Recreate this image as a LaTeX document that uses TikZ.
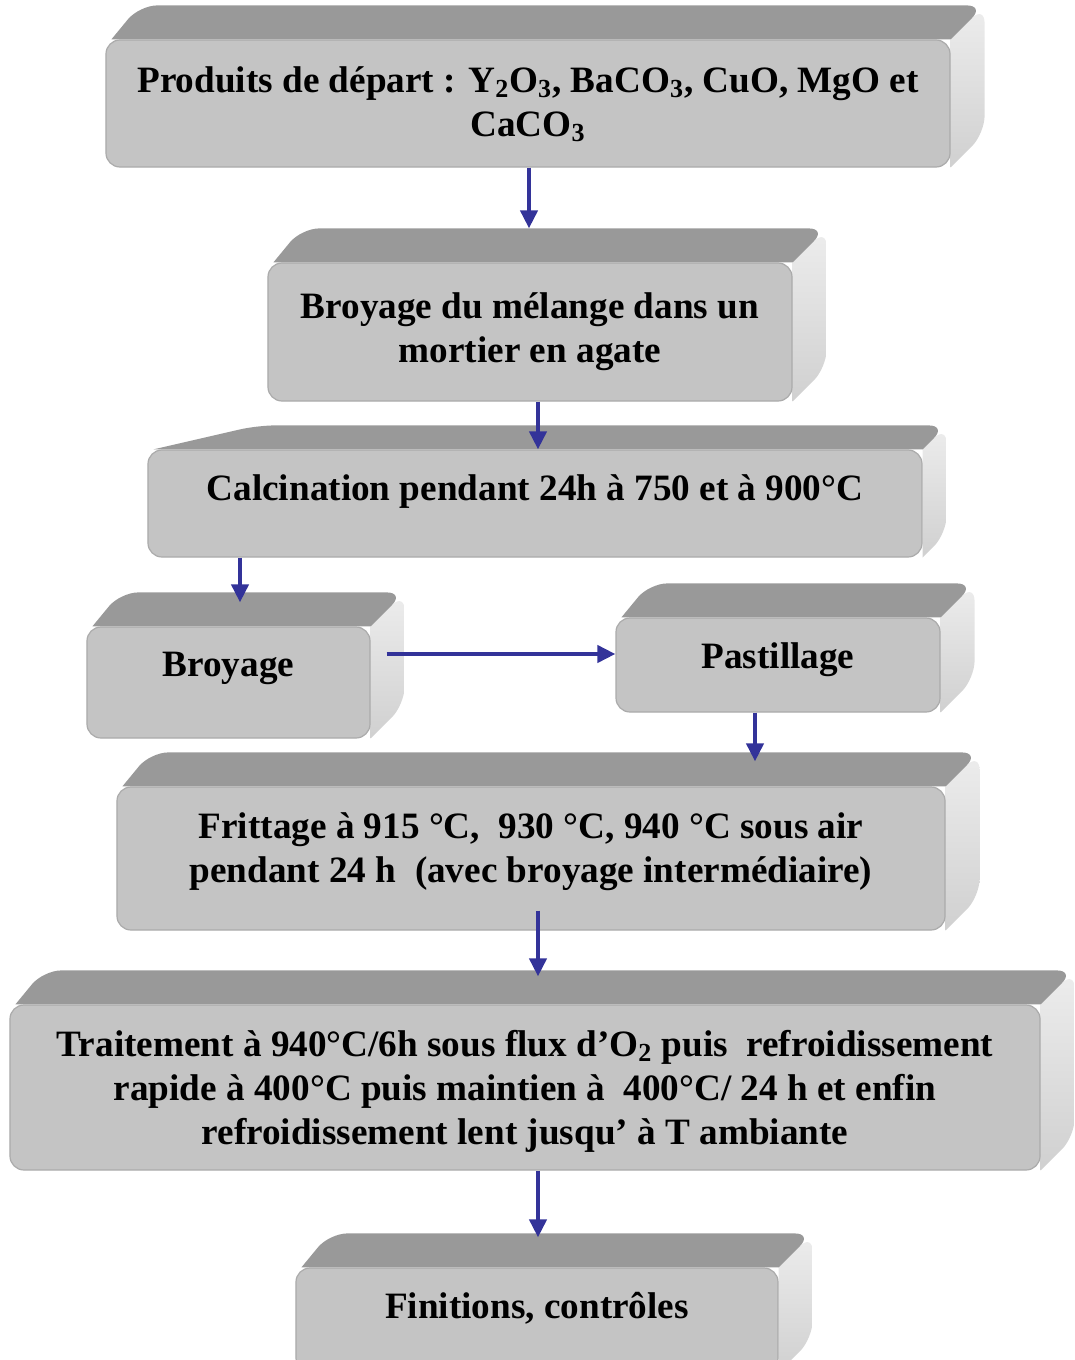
\documentclass[tikz,border=0pt]{standalone}
\usepackage{fontspec}
\setmainfont{Liberation Serif}
\usetikzlibrary{positioning}
\usetikzlibrary{calc}
\usetikzlibrary{backgrounds}
\usetikzlibrary{arrows.meta}

\definecolor{frontgray}{HTML}{C4C4C4}
\definecolor{topgray}{HTML}{999999}
\definecolor{sidelight}{HTML}{EDEDED}
\definecolor{sidedark}{HTML}{D0D0D0}
\definecolor{edgegray}{HTML}{ABABAB}
\definecolor{flowblue}{HTML}{333399}

% back faces of a stage box: #1 node, #2 depth, #3 left offset of the top face
\newcommand{\slab}[3]{%
  \shade[top color=sidelight, bottom color=sidedark]
    (#1.north east) [rounded corners=9bp] -- ($(#1.north east)+(#2,-#2)$)
    -- ($(#1.south east)+(#2,-#2)$) [sharp corners] -- (#1.south east) -- cycle;
  \fill[topgray]
    ([xshift=3bp]#1.north west) [rounded corners=9bp] -- ($(#1.north west)+(#3,-#2)$)
    -- ($(#1.north east)+(#2,-#2)$) [sharp corners] -- (#1.north east) -- cycle;
}

\begin{document}
\begin{tikzpicture}
[x=0.5bp,y=-0.5bp,
 stage/.style={shape=rectangle,rounded corners=7bp,fill=frontgray,draw=edgegray,
   line width=0.6bp,align=center,inner sep=0pt,
   font=\fontsize{18.6bp}{22bp}\selectfont\bfseries},
 lifted/.style={text depth=#1},
 flow/.style={draw=flowblue,line width=2bp,-{Triangle[length=9bp,width=8.5bp]}}]

\useasboundingbox (0,0) rectangle (1074,1360);

\draw (528,103.5) node (prod) [stage,lifted=2bp,minimum width=422bp,minimum height=63.5bp]
  {Produits de départ : Y\textsubscript{2}O\textsubscript{3}, BaCO\textsubscript{3}, CuO, MgO et\\
   CaCO\textsubscript{3}};
\draw (530,332) node (broy1) [stage,minimum width=262bp,minimum height=69bp]
  {Broyage du mélange dans un\\mortier en agate};
\draw (535,503.5) node (calc) [stage,lifted=16bp,minimum width=387bp,minimum height=53.5bp]
  {Calcination pendant 24h à 750 et à 900°C};
\draw (228.5,682.5) node (broy2) [stage,lifted=18bp,minimum width=141.5bp,minimum height=55.5bp]
  {Broyage};
\draw (778,665) node (past) [stage,lifted=9bp,minimum width=162bp,minimum height=47bp]
  {Pastillage};
\draw (531,858.5) node (fritt) [stage,lifted=11bp,minimum width=414bp,minimum height=71.5bp]
  {Frittage à 915 °C,\ \ 930 °C, 940 °C sous air\\
   pendant 24 h\ \ (avec broyage intermédiaire)};
\draw (525,1087.5) node (trait) [stage,lifted=0bp,minimum width=515bp,minimum height=82.5bp]
  {Traitement à 940°C/6h sous flux d’O\textsubscript{2} puis\ \ refroidissement\\
   rapide à 400°C puis maintien à\ \ 400°C/ 24 h et enfin\\
   refroidissement lent jusqu’ à T ambiante};
\draw (537,1320) node (fin) [stage,lifted=15bp,minimum width=241bp,minimum height=52bp]
  {Finitions, contrôles};

\begin{scope}[on background layer]
\slab{prod}{34}{34}
\slab{broy1}{34}{34}
\slab{calc}{24}{110}
\slab{broy2}{34}{34}
\slab{past}{34}{34}
\slab{fritt}{34}{34}
\slab{trait}{34}{34}
\slab{fin}{34}{34}
\end{scope}

\draw [flow] ([xshift=0.5bp]prod.south) -- ($([xshift=0.5bp]prod.south |- broy1.north)+(0,-34)$);
\draw [flow] ([xshift=4bp]broy1.south) -- ([xshift=4bp]broy1.south |- calc.north);
\coordinate (c3) at ($(calc.south -| broy2.north)+(11.5,0)$);
\draw [flow] (c3) -- ($(c3 |- broy2.north)+(0,-24)$);
\coordinate (b2out) at ($(broy2.east)+(16,-28.5)$);
\draw [flow] (b2out) -- (b2out -| past.west);
\draw [flow] ([xshift=-11.5bp]past.south) -- ($([xshift=-11.5bp]past.south |- fritt.north)+(0,-25)$);
\coordinate (f6) at ($(fritt.south)+(7,-20)$);
\draw [flow] (f6) -- ($(f6 |- trait.north)+(0,-28)$);
\draw [flow] ([xshift=6.5bp]trait.south) -- ($([xshift=6.5bp]trait.south |- fin.north)+(0,-30)$);
\end{tikzpicture}
\end{document}
